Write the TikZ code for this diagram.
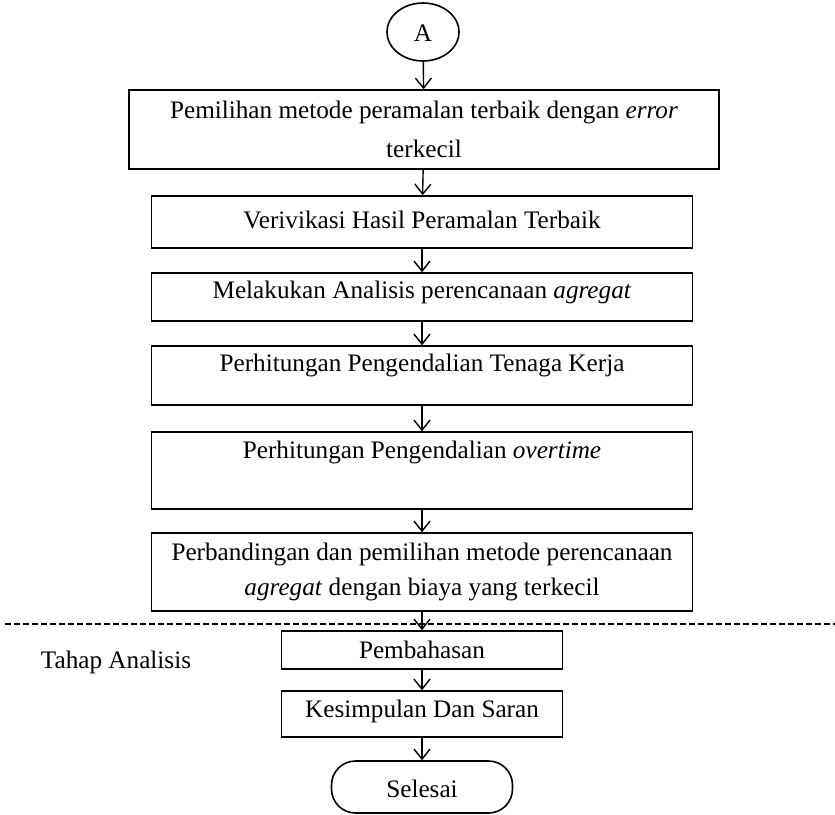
\documentclass[tikz,border=0pt]{standalone}
\usepackage{fontspec}
\setmainfont{Liberation Serif}
\usetikzlibrary{arrows.meta, shapes.geometric, positioning}

\tikzset{
  kotak/.style={draw, line width=0.8pt, inner sep=0pt, align=center,
    font=\fontsize{12.6}{17.5}\selectfont},
  satubaris/.style={text height=8.5pt, text depth=2.5pt},
  panah/.style={-{Straight Barb[length=5pt,width=8pt]}, line width=0.7pt},
}

\begin{document}
\begin{tikzpicture}[x=0.5pt, y=-0.5pt]
\useasboundingbox (0,0) rectangle (835,814);

% Konektor awal A
\node[kotak, ellipse, satubaris, text height=12pt, minimum width=36pt, minimum height=29pt] (A) at (423,32) {A};

% Tahap pengolahan
\node[kotak, minimum width=295pt, minimum height=39.5pt] (pilih) at (424,129.5)
  {Pemilihan metode peramalan terbaik dengan \textit{error}\\[2pt] terkecil};
\node[kotak, satubaris, minimum width=270.5pt, minimum height=26pt] (verif) at (422,222)
  {Verivikasi Hasil Peramalan Terbaik};
\node[kotak, satubaris, text depth=7.5pt, minimum width=270.5pt, minimum height=24pt] (agregat) at (422,297)
  {Melakukan Analisis perencanaan \textit{agregat}};
\node[kotak, satubaris, text depth=13pt, minimum width=270.5pt, minimum height=29.5pt] (tenaga) at (422,375.5)
  {Perhitungan Pengendalian Tenaga Kerja};
\node[kotak, satubaris, text depth=21pt, minimum width=270.5pt, minimum height=38.5pt] (lembur) at (422,470.5)
  {Perhitungan Pengendalian \textit{overtime}};
\node[kotak, minimum width=270.5pt, minimum height=39pt] (banding) at (422,572)
  {Perbandingan dan pemilihan metode perencanaan\\ \textit{agregat} dengan biaya yang terkecil};

% Batas tahap analisis
\coordinate (batas kiri) at (5,624);
\coordinate (batas kanan) at (835,624);
\draw[dash pattern=on 3pt off 1.5pt, line width=0.6pt] (batas kiri) -- (batas kanan);
\node[font=\fontsize{12.6}{17.5}\selectfont, satubaris, inner sep=0pt] (tahap) at (116,662) {Tahap Analisis};

% Tahap analisis
\node[kotak, satubaris, text height=10.5pt, minimum width=140.5pt, minimum height=19pt] (bahas) at (422,650)
  {Pembahasan};
\node[kotak, satubaris, text depth=5.5pt, minimum width=140.5pt, minimum height=23pt] (simpul) at (422,714)
  {Kesimpulan Dan Saran};
\node[kotak, satubaris, text height=12.5pt, rounded corners=12pt, minimum width=90.5pt, minimum height=26pt] (selesai) at (422,787)
  {Selesai};

% Panah
\draw[panah] (A) -- (pilih);
\draw[panah] (pilih) -- (verif);
\draw[panah] (verif) -- (agregat);
\draw[panah] (agregat) -- (tenaga);
\draw[panah] (tenaga) -- (lembur);
\draw[panah] (lembur) -- (banding);
\draw[panah] (banding) -- (bahas);
\draw[panah] (bahas) -- (simpul);
\draw[panah] (simpul) -- (selesai);
\end{tikzpicture}
\end{document}
